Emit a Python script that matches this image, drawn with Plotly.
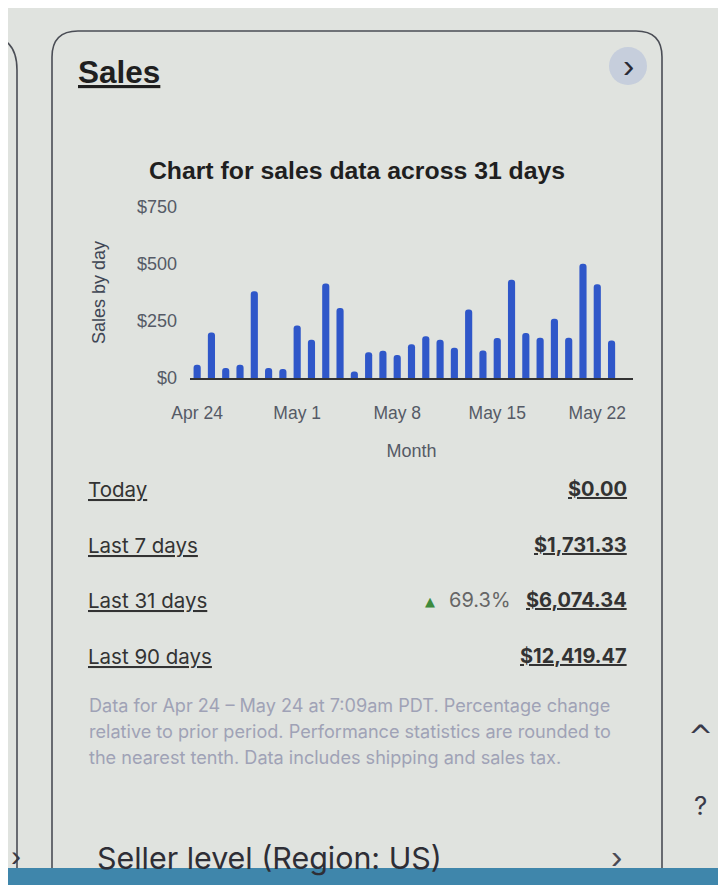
import plotly.graph_objects as go
import pandas as pd

# ---- data ----
days = pd.date_range("2024-04-24", "2024-05-24", freq="D").strftime("%Y-%m-%d").tolist()
sales = [58, 200, 44, 58, 380, 44, 39, 230, 168, 414,
         307, 29, 113, 120, 101, 148, 183, 168, 133, 300,
         121, 175, 431, 197, 177, 260, 177, 501, 411, 165, 0]
x_tick_vals = ["2024-04-24", "2024-05-01", "2024-05-08", "2024-05-15", "2024-05-22"]
x_tick_text = ["Apr 24", "May 1", "May 8", "May 15", "May 22"]
y_tick_vals = [0, 250, 500, 750]
y_tick_text = ["$0", "$250", "$500", "$750"]

row_labels = ["Today", "Last 7 days", "Last 31 days", "Last 90 days"]
row_values = ["$0.00", "$1,731.33", "$6,074.34", "$12,419.47"]
row_change = ["", "", "69.3%", ""]

W, H = 726, 885
OFF = 8  # page body margin
BG = "#e0e3df"
DARK = "#2b2b2b"

def px(x):
    return (x - OFF) / W

def py(y):
    return 1 - (y - OFF) / H

fig = go.Figure()
fig.add_trace(go.Bar(
    x=days, y=sales,
    marker=dict(color="#2f57c9", line=dict(width=0)),
    width=[0.5 * 86400000] * len(days),
    hoverinfo="skip",
))

ann = []
shapes = []

# card border
r = 26
x0, y0, x1, y1 = 52, 31, 662, 910
path = (f"M {px(x0)},{py(y1)} L {px(x0)},{py(y0 + r)} "
        f"Q {px(x0)},{py(y0)} {px(x0 + r)},{py(y0)} "
        f"L {px(x1 - r)},{py(y0)} Q {px(x1)},{py(y0)} {px(x1)},{py(y0 + r)} "
        f"L {px(x1)},{py(y1)}")
shapes.append(dict(type="path", xref="paper", yref="paper", path=path,
                   line=dict(color="#4a4d55", width=1.6)))
# left partial card
path2 = (f"M {px(-10)},{py(36)} Q {px(17)},{py(38)} {px(17)},{py(70)} L {px(17)},{py(910)}")
shapes.append(dict(type="path", xref="paper", yref="paper", path=path2,
                   line=dict(color="#4a4d55", width=1.6)))
# chevron button circle
shapes.append(dict(type="circle", xref="paper", yref="paper",
                   x0=px(609), x1=px(647), y0=py(85), y1=py(47),
                   fillcolor="rgba(150,165,215,0.35)", line=dict(width=0)))
# bottom strip
shapes.append(dict(type="rect", xref="paper", yref="paper",
                   x0=-0.1, x1=1.1, y0=-0.1, y1=py(868),
                   fillcolor="#3f86ab", line=dict(width=0), layer="above"))

def text(x, y, t, size, color=DARK, family="Liberation Sans, Arial", xanchor="left", bold=False):
    if bold:
        t = f"<b>{t}</b>"
    ann.append(dict(x=px(x), y=py(y), xref="paper", yref="paper", text=t,
                    showarrow=False, xanchor=xanchor, yanchor="middle",
                    font=dict(size=size, color=color, family=family)))

text(76, 72, "<u>Sales</u>", 31.5, color="#1f1f1f", bold=True)
text(628, 65, "›", 34, color="#2a2a35", xanchor="center")

# rows
row_y = [489, 545, 600, 656]
for lab, val, chg, yy in zip(row_labels, row_values, row_change, row_y):
    text(86, yy, f"<u>{lab}</u>", 20.5, color="#333333", family="Inter, Noto Sans")
    text(629, yy, f"<u>{val}</u>", 20, color="#333333", family="Inter, Noto Sans",
         xanchor="right", bold=True)
    if chg:
        text(513, yy, chg, 20, color="#666666", family="Inter, Noto Sans", xanchor="right")
        text(430, yy + 1, "▲", 13, color="#3d8a3d", family="DejaVu Sans", xanchor="center")

footer = ["Data for Apr 24 – May 24 at 7:09am PDT. Percentage change",
          "relative to prior period. Performance statistics are rounded to",
          "the nearest tenth. Data includes shipping and sales tax."]
for i, line in enumerate(footer):
    text(87, 705 + i * 26, line, 18.1, color="#9fa2b6", family="Inter, Noto Sans")

text(700, 736, "^", 30, color="#3a3a4a", xanchor="center", family="DejaVu Sans")
text(700, 805, "?", 26, color="#3a3a4a", xanchor="center", family="Inter")
text(95, 858, "Seller level (Region: US)", 30.4, color="#2e2e36", family="Inter, Noto Sans")
text(616, 856, "›", 34, color="#4a4a55", xanchor="center")
text(16, 855, "›", 30, color="#3a3a45", xanchor="center")

fig.update_layout(
    width=W, height=H,
    margin=dict(l=0, r=0, t=0, b=0, autoexpand=False),
    paper_bgcolor=BG, plot_bgcolor=BG,
    showlegend=False,
    barcornerradius=4,
    title=dict(text="<b>Chart for sales data across 31 days</b>",
               x=px(357), y=py(170), xref="paper", yref="paper",
               xanchor="center", yanchor="middle", automargin=False,
               font=dict(size=24.8, color="#1f1f1f", family="Liberation Sans, Arial")),
    xaxis=dict(
        domain=[px(190), px(633)],
        type="date", automargin=False,
        range=["2024-04-23 12:00", "2024-05-24 12:00"],
        tickvals=x_tick_vals, ticktext=x_tick_text,
        ticks="", ticklabelstandoff=18,
        tickfont=dict(size=17.5, color="#555a66", family="Liberation Sans, Arial"),
        showgrid=False, zeroline=False,
        showline=True, linecolor="#333333", linewidth=1.5,
        title=dict(text="Month", standoff=23,
                   font=dict(size=18, color="#555a66", family="Liberation Sans, Arial")),
        fixedrange=True,
    ),
    yaxis=dict(
        domain=[py(378), py(207)],
        range=[0, 750], automargin=False,
        tickvals=y_tick_vals, ticktext=y_tick_text,
        ticks="", ticklabelstandoff=12,
        tickfont=dict(size=18, color="#555a66", family="Liberation Sans, Arial"),
        showgrid=False, zeroline=False, showline=False,
        title=dict(text="Sales by day", standoff=26,
                   font=dict(size=18, color="#3f4655", family="Liberation Sans, Arial")),
        fixedrange=True,
    ),
    annotations=ann,
    shapes=shapes,
)

fig.write_html("out.html")
